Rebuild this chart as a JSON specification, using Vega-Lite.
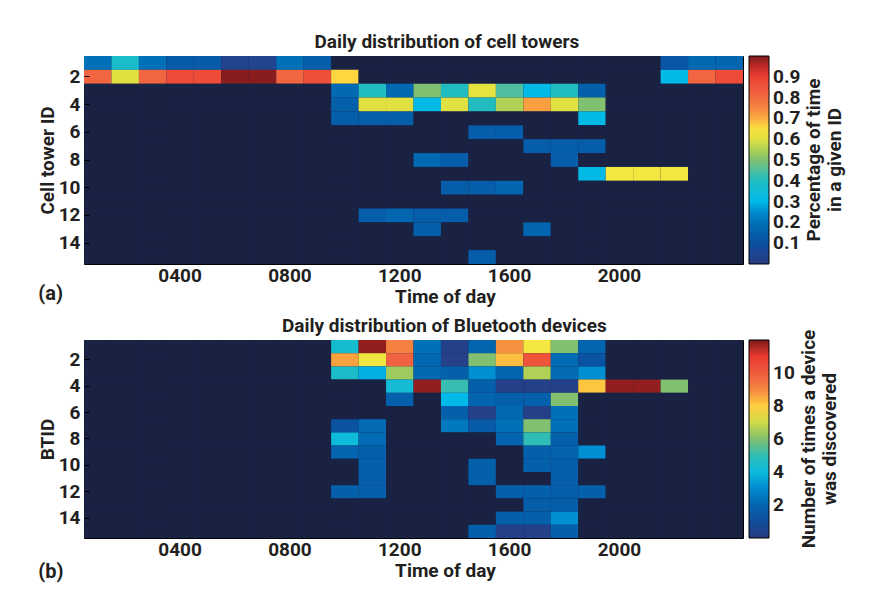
{
  "$schema": "https://vega.github.io/schema/vega-lite/v6.json",
  "padding": {"left": 37, "top": 32, "right": 5, "bottom": 5},
  "background": "white",
  "config": {
    "font": "Roboto",
    "view": {"stroke": "#000000", "strokeWidth": 1, "fill": "#1a2244"},
    "axis": {"labelFontSize": 19, "labelFontWeight": "bold", "labelColor": "#231f20", "titleFontSize": 19, "titleFontWeight": "bold", "titleColor": "#231f20", "domain": false, "grid": false},
    "legend": {"labelFontSize": 19, "labelFontWeight": "bold", "labelColor": "#231f20", "titleFontSize": 19, "titleFontWeight": "bold", "titleColor": "#231f20", "titleLimit": 400},
    "title": {"fontSize": 19, "fontWeight": "bold", "color": "#231f20"},
    "concat": {"spacing": 9}
  },
  "resolve": {"scale": {"color": "independent"}},
  "datasets": {
    "ct": [
      {"h":1,"r":1,"v":0.2},{"h":2,"r":1,"v":0.38},{"h":3,"r":1,"v":0.2},{"h":4,"r":1,"v":0.13},{"h":5,"r":1,"v":0.13},{"h":6,"r":1,"v":0.04},{"h":7,"r":1,"v":0.04},{"h":8,"r":1,"v":0.2},{"h":9,"r":1,"v":0.14},{"h":10,"r":1,"v":0},{"h":11,"r":1,"v":0},{"h":12,"r":1,"v":0},{"h":13,"r":1,"v":0},{"h":14,"r":1,"v":0},{"h":15,"r":1,"v":0},{"h":16,"r":1,"v":0},{"h":17,"r":1,"v":0},{"h":18,"r":1,"v":0},{"h":19,"r":1,"v":0},{"h":20,"r":1,"v":0},{"h":21,"r":1,"v":0},{"h":22,"r":1,"v":0.12},{"h":23,"r":1,"v":0.18},{"h":24,"r":1,"v":0.17},
      {"h":1,"r":2,"v":0.81},{"h":2,"r":2,"v":0.6},{"h":3,"r":2,"v":0.81},{"h":4,"r":2,"v":0.87},{"h":5,"r":2,"v":0.87},{"h":6,"r":2,"v":0.99},{"h":7,"r":2,"v":0.99},{"h":8,"r":2,"v":0.81},{"h":9,"r":2,"v":0.86},{"h":10,"r":2,"v":0.66},{"h":11,"r":2,"v":0},{"h":12,"r":2,"v":0},{"h":13,"r":2,"v":0},{"h":14,"r":2,"v":0},{"h":15,"r":2,"v":0},{"h":16,"r":2,"v":0},{"h":17,"r":2,"v":0},{"h":18,"r":2,"v":0},{"h":19,"r":2,"v":0},{"h":20,"r":2,"v":0},{"h":21,"r":2,"v":0},{"h":22,"r":2,"v":0.31},{"h":23,"r":2,"v":0.81},{"h":24,"r":2,"v":0.87},
      {"h":1,"r":3,"v":0},{"h":2,"r":3,"v":0},{"h":3,"r":3,"v":0},{"h":4,"r":3,"v":0},{"h":5,"r":3,"v":0},{"h":6,"r":3,"v":0},{"h":7,"r":3,"v":0},{"h":8,"r":3,"v":0},{"h":9,"r":3,"v":0},{"h":10,"r":3,"v":0.18},{"h":11,"r":3,"v":0.4},{"h":12,"r":3,"v":0.18},{"h":13,"r":3,"v":0.5},{"h":14,"r":3,"v":0.4},{"h":15,"r":3,"v":0.61},{"h":16,"r":3,"v":0.45},{"h":17,"r":3,"v":0.31},{"h":18,"r":3,"v":0.4},{"h":19,"r":3,"v":0.15},{"h":20,"r":3,"v":0},{"h":21,"r":3,"v":0},{"h":22,"r":3,"v":0},{"h":23,"r":3,"v":0},{"h":24,"r":3,"v":0},
      {"h":1,"r":4,"v":0},{"h":2,"r":4,"v":0},{"h":3,"r":4,"v":0},{"h":4,"r":4,"v":0},{"h":5,"r":4,"v":0},{"h":6,"r":4,"v":0},{"h":7,"r":4,"v":0},{"h":8,"r":4,"v":0},{"h":9,"r":4,"v":0},{"h":10,"r":4,"v":0.15},{"h":11,"r":4,"v":0.6},{"h":12,"r":4,"v":0.6},{"h":13,"r":4,"v":0.31},{"h":14,"r":4,"v":0.6},{"h":15,"r":4,"v":0.4},{"h":16,"r":4,"v":0.55},{"h":17,"r":4,"v":0.71},{"h":18,"r":4,"v":0.6},{"h":19,"r":4,"v":0.5},{"h":20,"r":4,"v":0},{"h":21,"r":4,"v":0},{"h":22,"r":4,"v":0},{"h":23,"r":4,"v":0},{"h":24,"r":4,"v":0},
      {"h":1,"r":5,"v":0},{"h":2,"r":5,"v":0},{"h":3,"r":5,"v":0},{"h":4,"r":5,"v":0},{"h":5,"r":5,"v":0},{"h":6,"r":5,"v":0},{"h":7,"r":5,"v":0},{"h":8,"r":5,"v":0},{"h":9,"r":5,"v":0},{"h":10,"r":5,"v":0.14},{"h":11,"r":5,"v":0.14},{"h":12,"r":5,"v":0.14},{"h":13,"r":5,"v":0},{"h":14,"r":5,"v":0},{"h":15,"r":5,"v":0},{"h":16,"r":5,"v":0},{"h":17,"r":5,"v":0},{"h":18,"r":5,"v":0},{"h":19,"r":5,"v":0.31},{"h":20,"r":5,"v":0},{"h":21,"r":5,"v":0},{"h":22,"r":5,"v":0},{"h":23,"r":5,"v":0},{"h":24,"r":5,"v":0},
      {"h":1,"r":6,"v":0},{"h":2,"r":6,"v":0},{"h":3,"r":6,"v":0},{"h":4,"r":6,"v":0},{"h":5,"r":6,"v":0},{"h":6,"r":6,"v":0},{"h":7,"r":6,"v":0},{"h":8,"r":6,"v":0},{"h":9,"r":6,"v":0},{"h":10,"r":6,"v":0},{"h":11,"r":6,"v":0},{"h":12,"r":6,"v":0},{"h":13,"r":6,"v":0},{"h":14,"r":6,"v":0},{"h":15,"r":6,"v":0.14},{"h":16,"r":6,"v":0.14},{"h":17,"r":6,"v":0},{"h":18,"r":6,"v":0},{"h":19,"r":6,"v":0},{"h":20,"r":6,"v":0},{"h":21,"r":6,"v":0},{"h":22,"r":6,"v":0},{"h":23,"r":6,"v":0},{"h":24,"r":6,"v":0},
      {"h":1,"r":7,"v":0},{"h":2,"r":7,"v":0},{"h":3,"r":7,"v":0},{"h":4,"r":7,"v":0},{"h":5,"r":7,"v":0},{"h":6,"r":7,"v":0},{"h":7,"r":7,"v":0},{"h":8,"r":7,"v":0},{"h":9,"r":7,"v":0},{"h":10,"r":7,"v":0},{"h":11,"r":7,"v":0},{"h":12,"r":7,"v":0},{"h":13,"r":7,"v":0},{"h":14,"r":7,"v":0},{"h":15,"r":7,"v":0},{"h":16,"r":7,"v":0},{"h":17,"r":7,"v":0.14},{"h":18,"r":7,"v":0.14},{"h":19,"r":7,"v":0.14},{"h":20,"r":7,"v":0},{"h":21,"r":7,"v":0},{"h":22,"r":7,"v":0},{"h":23,"r":7,"v":0},{"h":24,"r":7,"v":0},
      {"h":1,"r":8,"v":0},{"h":2,"r":8,"v":0},{"h":3,"r":8,"v":0},{"h":4,"r":8,"v":0},{"h":5,"r":8,"v":0},{"h":6,"r":8,"v":0},{"h":7,"r":8,"v":0},{"h":8,"r":8,"v":0},{"h":9,"r":8,"v":0},{"h":10,"r":8,"v":0},{"h":11,"r":8,"v":0},{"h":12,"r":8,"v":0},{"h":13,"r":8,"v":0.18},{"h":14,"r":8,"v":0.14},{"h":15,"r":8,"v":0},{"h":16,"r":8,"v":0},{"h":17,"r":8,"v":0},{"h":18,"r":8,"v":0.14},{"h":19,"r":8,"v":0},{"h":20,"r":8,"v":0},{"h":21,"r":8,"v":0},{"h":22,"r":8,"v":0},{"h":23,"r":8,"v":0},{"h":24,"r":8,"v":0},
      {"h":1,"r":9,"v":0},{"h":2,"r":9,"v":0},{"h":3,"r":9,"v":0},{"h":4,"r":9,"v":0},{"h":5,"r":9,"v":0},{"h":6,"r":9,"v":0},{"h":7,"r":9,"v":0},{"h":8,"r":9,"v":0},{"h":9,"r":9,"v":0},{"h":10,"r":9,"v":0},{"h":11,"r":9,"v":0},{"h":12,"r":9,"v":0},{"h":13,"r":9,"v":0},{"h":14,"r":9,"v":0},{"h":15,"r":9,"v":0},{"h":16,"r":9,"v":0},{"h":17,"r":9,"v":0},{"h":18,"r":9,"v":0},{"h":19,"r":9,"v":0.31},{"h":20,"r":9,"v":0.63},{"h":21,"r":9,"v":0.63},{"h":22,"r":9,"v":0.63},{"h":23,"r":9,"v":0},{"h":24,"r":9,"v":0},
      {"h":1,"r":10,"v":0},{"h":2,"r":10,"v":0},{"h":3,"r":10,"v":0},{"h":4,"r":10,"v":0},{"h":5,"r":10,"v":0},{"h":6,"r":10,"v":0},{"h":7,"r":10,"v":0},{"h":8,"r":10,"v":0},{"h":9,"r":10,"v":0},{"h":10,"r":10,"v":0},{"h":11,"r":10,"v":0},{"h":12,"r":10,"v":0},{"h":13,"r":10,"v":0},{"h":14,"r":10,"v":0.14},{"h":15,"r":10,"v":0.14},{"h":16,"r":10,"v":0.17},{"h":17,"r":10,"v":0},{"h":18,"r":10,"v":0},{"h":19,"r":10,"v":0},{"h":20,"r":10,"v":0},{"h":21,"r":10,"v":0},{"h":22,"r":10,"v":0},{"h":23,"r":10,"v":0},{"h":24,"r":10,"v":0},
      {"h":1,"r":11,"v":0},{"h":2,"r":11,"v":0},{"h":3,"r":11,"v":0},{"h":4,"r":11,"v":0},{"h":5,"r":11,"v":0},{"h":6,"r":11,"v":0},{"h":7,"r":11,"v":0},{"h":8,"r":11,"v":0},{"h":9,"r":11,"v":0},{"h":10,"r":11,"v":0},{"h":11,"r":11,"v":0},{"h":12,"r":11,"v":0},{"h":13,"r":11,"v":0},{"h":14,"r":11,"v":0},{"h":15,"r":11,"v":0},{"h":16,"r":11,"v":0},{"h":17,"r":11,"v":0},{"h":18,"r":11,"v":0},{"h":19,"r":11,"v":0},{"h":20,"r":11,"v":0},{"h":21,"r":11,"v":0},{"h":22,"r":11,"v":0},{"h":23,"r":11,"v":0},{"h":24,"r":11,"v":0},
      {"h":1,"r":12,"v":0},{"h":2,"r":12,"v":0},{"h":3,"r":12,"v":0},{"h":4,"r":12,"v":0},{"h":5,"r":12,"v":0},{"h":6,"r":12,"v":0},{"h":7,"r":12,"v":0},{"h":8,"r":12,"v":0},{"h":9,"r":12,"v":0},{"h":10,"r":12,"v":0},{"h":11,"r":12,"v":0.14},{"h":12,"r":12,"v":0.17},{"h":13,"r":12,"v":0.14},{"h":14,"r":12,"v":0.14},{"h":15,"r":12,"v":0},{"h":16,"r":12,"v":0},{"h":17,"r":12,"v":0},{"h":18,"r":12,"v":0},{"h":19,"r":12,"v":0},{"h":20,"r":12,"v":0},{"h":21,"r":12,"v":0},{"h":22,"r":12,"v":0},{"h":23,"r":12,"v":0},{"h":24,"r":12,"v":0},
      {"h":1,"r":13,"v":0},{"h":2,"r":13,"v":0},{"h":3,"r":13,"v":0},{"h":4,"r":13,"v":0},{"h":5,"r":13,"v":0},{"h":6,"r":13,"v":0},{"h":7,"r":13,"v":0},{"h":8,"r":13,"v":0},{"h":9,"r":13,"v":0},{"h":10,"r":13,"v":0},{"h":11,"r":13,"v":0},{"h":12,"r":13,"v":0},{"h":13,"r":13,"v":0.14},{"h":14,"r":13,"v":0},{"h":15,"r":13,"v":0},{"h":16,"r":13,"v":0},{"h":17,"r":13,"v":0.17},{"h":18,"r":13,"v":0},{"h":19,"r":13,"v":0},{"h":20,"r":13,"v":0},{"h":21,"r":13,"v":0},{"h":22,"r":13,"v":0},{"h":23,"r":13,"v":0},{"h":24,"r":13,"v":0},
      {"h":1,"r":14,"v":0},{"h":2,"r":14,"v":0},{"h":3,"r":14,"v":0},{"h":4,"r":14,"v":0},{"h":5,"r":14,"v":0},{"h":6,"r":14,"v":0},{"h":7,"r":14,"v":0},{"h":8,"r":14,"v":0},{"h":9,"r":14,"v":0},{"h":10,"r":14,"v":0},{"h":11,"r":14,"v":0},{"h":12,"r":14,"v":0},{"h":13,"r":14,"v":0},{"h":14,"r":14,"v":0},{"h":15,"r":14,"v":0},{"h":16,"r":14,"v":0},{"h":17,"r":14,"v":0},{"h":18,"r":14,"v":0},{"h":19,"r":14,"v":0},{"h":20,"r":14,"v":0},{"h":21,"r":14,"v":0},{"h":22,"r":14,"v":0},{"h":23,"r":14,"v":0},{"h":24,"r":14,"v":0},
      {"h":1,"r":15,"v":0},{"h":2,"r":15,"v":0},{"h":3,"r":15,"v":0},{"h":4,"r":15,"v":0},{"h":5,"r":15,"v":0},{"h":6,"r":15,"v":0},{"h":7,"r":15,"v":0},{"h":8,"r":15,"v":0},{"h":9,"r":15,"v":0},{"h":10,"r":15,"v":0},{"h":11,"r":15,"v":0},{"h":12,"r":15,"v":0},{"h":13,"r":15,"v":0},{"h":14,"r":15,"v":0},{"h":15,"r":15,"v":0.14},{"h":16,"r":15,"v":0},{"h":17,"r":15,"v":0},{"h":18,"r":15,"v":0},{"h":19,"r":15,"v":0},{"h":20,"r":15,"v":0},{"h":21,"r":15,"v":0},{"h":22,"r":15,"v":0},{"h":23,"r":15,"v":0},{"h":24,"r":15,"v":0}
    ],
    "bt": [
      {"h":1,"r":1,"v":0},{"h":2,"r":1,"v":0},{"h":3,"r":1,"v":0},{"h":4,"r":1,"v":0},{"h":5,"r":1,"v":0},{"h":6,"r":1,"v":0},{"h":7,"r":1,"v":0},{"h":8,"r":1,"v":0},{"h":9,"r":1,"v":0},{"h":10,"r":1,"v":4.4},{"h":11,"r":1,"v":11.8},{"h":12,"r":1,"v":9.1},{"h":13,"r":1,"v":2.4},{"h":14,"r":1,"v":0.3},{"h":15,"r":1,"v":2.0},{"h":16,"r":1,"v":8.8},{"h":17,"r":1,"v":7.6},{"h":18,"r":1,"v":6.0},{"h":19,"r":1,"v":2.0},{"h":20,"r":1,"v":0},{"h":21,"r":1,"v":0},{"h":22,"r":1,"v":0},{"h":23,"r":1,"v":0},{"h":24,"r":1,"v":0},
      {"h":1,"r":2,"v":0},{"h":2,"r":2,"v":0},{"h":3,"r":2,"v":0},{"h":4,"r":2,"v":0},{"h":5,"r":2,"v":0},{"h":6,"r":2,"v":0},{"h":7,"r":2,"v":0},{"h":8,"r":2,"v":0},{"h":9,"r":2,"v":0},{"h":10,"r":2,"v":8.5},{"h":11,"r":2,"v":7.5},{"h":12,"r":2,"v":9.8},{"h":13,"r":2,"v":2.1},{"h":14,"r":2,"v":0.3},{"h":15,"r":2,"v":6.0},{"h":16,"r":2,"v":8.2},{"h":17,"r":2,"v":10.2},{"h":18,"r":2,"v":2.2},{"h":19,"r":2,"v":1.3},{"h":20,"r":2,"v":0},{"h":21,"r":2,"v":0},{"h":22,"r":2,"v":0},{"h":23,"r":2,"v":0},{"h":24,"r":2,"v":0},
      {"h":1,"r":3,"v":0},{"h":2,"r":3,"v":0},{"h":3,"r":3,"v":0},{"h":4,"r":3,"v":0},{"h":5,"r":3,"v":0},{"h":6,"r":3,"v":0},{"h":7,"r":3,"v":0},{"h":8,"r":3,"v":0},{"h":9,"r":3,"v":0},{"h":10,"r":3,"v":4.6},{"h":11,"r":3,"v":3.5},{"h":12,"r":3,"v":6.4},{"h":13,"r":3,"v":2.1},{"h":14,"r":3,"v":1.8},{"h":15,"r":3,"v":3.1},{"h":16,"r":3,"v":2.0},{"h":17,"r":3,"v":6.6},{"h":18,"r":3,"v":2.2},{"h":19,"r":3,"v":3.1},{"h":20,"r":3,"v":0},{"h":21,"r":3,"v":0},{"h":22,"r":3,"v":0},{"h":23,"r":3,"v":0},{"h":24,"r":3,"v":0},
      {"h":1,"r":4,"v":0},{"h":2,"r":4,"v":0},{"h":3,"r":4,"v":0},{"h":4,"r":4,"v":0},{"h":5,"r":4,"v":0},{"h":6,"r":4,"v":0},{"h":7,"r":4,"v":0},{"h":8,"r":4,"v":0},{"h":9,"r":4,"v":0},{"h":10,"r":4,"v":0},{"h":11,"r":4,"v":0},{"h":12,"r":4,"v":4.3},{"h":13,"r":4,"v":11.8},{"h":14,"r":4,"v":5.1},{"h":15,"r":4,"v":1.8},{"h":16,"r":4,"v":0.3},{"h":17,"r":4,"v":0.3},{"h":18,"r":4,"v":0.3},{"h":19,"r":4,"v":8.1},{"h":20,"r":4,"v":11.8},{"h":21,"r":4,"v":11.8},{"h":22,"r":4,"v":6.0},{"h":23,"r":4,"v":0},{"h":24,"r":4,"v":0},
      {"h":1,"r":5,"v":0},{"h":2,"r":5,"v":0},{"h":3,"r":5,"v":0},{"h":4,"r":5,"v":0},{"h":5,"r":5,"v":0},{"h":6,"r":5,"v":0},{"h":7,"r":5,"v":0},{"h":8,"r":5,"v":0},{"h":9,"r":5,"v":0},{"h":10,"r":5,"v":0},{"h":11,"r":5,"v":0},{"h":12,"r":5,"v":1.8},{"h":13,"r":5,"v":0},{"h":14,"r":5,"v":3.6},{"h":15,"r":5,"v":2.0},{"h":16,"r":5,"v":1.8},{"h":17,"r":5,"v":1.8},{"h":18,"r":5,"v":6.0},{"h":19,"r":5,"v":0},{"h":20,"r":5,"v":0},{"h":21,"r":5,"v":0},{"h":22,"r":5,"v":0},{"h":23,"r":5,"v":0},{"h":24,"r":5,"v":0},
      {"h":1,"r":6,"v":0},{"h":2,"r":6,"v":0},{"h":3,"r":6,"v":0},{"h":4,"r":6,"v":0},{"h":5,"r":6,"v":0},{"h":6,"r":6,"v":0},{"h":7,"r":6,"v":0},{"h":8,"r":6,"v":0},{"h":9,"r":6,"v":0},{"h":10,"r":6,"v":0},{"h":11,"r":6,"v":0},{"h":12,"r":6,"v":0},{"h":13,"r":6,"v":0},{"h":14,"r":6,"v":1.8},{"h":15,"r":6,"v":0.3},{"h":16,"r":6,"v":2.1},{"h":17,"r":6,"v":0.3},{"h":18,"r":6,"v":2.4},{"h":19,"r":6,"v":0},{"h":20,"r":6,"v":0},{"h":21,"r":6,"v":0},{"h":22,"r":6,"v":0},{"h":23,"r":6,"v":0},{"h":24,"r":6,"v":0},
      {"h":1,"r":7,"v":0},{"h":2,"r":7,"v":0},{"h":3,"r":7,"v":0},{"h":4,"r":7,"v":0},{"h":5,"r":7,"v":0},{"h":6,"r":7,"v":0},{"h":7,"r":7,"v":0},{"h":8,"r":7,"v":0},{"h":9,"r":7,"v":0},{"h":10,"r":7,"v":1.3},{"h":11,"r":7,"v":2.2},{"h":12,"r":7,"v":0},{"h":13,"r":7,"v":0},{"h":14,"r":7,"v":2.6},{"h":15,"r":7,"v":1.6},{"h":16,"r":7,"v":2.4},{"h":17,"r":7,"v":6.0},{"h":18,"r":7,"v":2.4},{"h":19,"r":7,"v":0},{"h":20,"r":7,"v":0},{"h":21,"r":7,"v":0},{"h":22,"r":7,"v":0},{"h":23,"r":7,"v":0},{"h":24,"r":7,"v":0},
      {"h":1,"r":8,"v":0},{"h":2,"r":8,"v":0},{"h":3,"r":8,"v":0},{"h":4,"r":8,"v":0},{"h":5,"r":8,"v":0},{"h":6,"r":8,"v":0},{"h":7,"r":8,"v":0},{"h":8,"r":8,"v":0},{"h":9,"r":8,"v":0},{"h":10,"r":8,"v":4.1},{"h":11,"r":8,"v":2.2},{"h":12,"r":8,"v":0},{"h":13,"r":8,"v":0},{"h":14,"r":8,"v":0},{"h":15,"r":8,"v":0},{"h":16,"r":8,"v":2.0},{"h":17,"r":8,"v":5.0},{"h":18,"r":8,"v":1.8},{"h":19,"r":8,"v":0},{"h":20,"r":8,"v":0},{"h":21,"r":8,"v":0},{"h":22,"r":8,"v":0},{"h":23,"r":8,"v":0},{"h":24,"r":8,"v":0},
      {"h":1,"r":9,"v":0},{"h":2,"r":9,"v":0},{"h":3,"r":9,"v":0},{"h":4,"r":9,"v":0},{"h":5,"r":9,"v":0},{"h":6,"r":9,"v":0},{"h":7,"r":9,"v":0},{"h":8,"r":9,"v":0},{"h":9,"r":9,"v":0},{"h":10,"r":9,"v":2.0},{"h":11,"r":9,"v":1.8},{"h":12,"r":9,"v":0},{"h":13,"r":9,"v":0},{"h":14,"r":9,"v":0},{"h":15,"r":9,"v":0},{"h":16,"r":9,"v":0},{"h":17,"r":9,"v":1.8},{"h":18,"r":9,"v":1.9},{"h":19,"r":9,"v":3.1},{"h":20,"r":9,"v":0},{"h":21,"r":9,"v":0},{"h":22,"r":9,"v":0},{"h":23,"r":9,"v":0},{"h":24,"r":9,"v":0},
      {"h":1,"r":10,"v":0},{"h":2,"r":10,"v":0},{"h":3,"r":10,"v":0},{"h":4,"r":10,"v":0},{"h":5,"r":10,"v":0},{"h":6,"r":10,"v":0},{"h":7,"r":10,"v":0},{"h":8,"r":10,"v":0},{"h":9,"r":10,"v":0},{"h":10,"r":10,"v":0},{"h":11,"r":10,"v":1.8},{"h":12,"r":10,"v":0},{"h":13,"r":10,"v":0},{"h":14,"r":10,"v":0},{"h":15,"r":10,"v":1.8},{"h":16,"r":10,"v":0},{"h":17,"r":10,"v":1.8},{"h":18,"r":10,"v":1.7},{"h":19,"r":10,"v":0},{"h":20,"r":10,"v":0},{"h":21,"r":10,"v":0},{"h":22,"r":10,"v":0},{"h":23,"r":10,"v":0},{"h":24,"r":10,"v":0},
      {"h":1,"r":11,"v":0},{"h":2,"r":11,"v":0},{"h":3,"r":11,"v":0},{"h":4,"r":11,"v":0},{"h":5,"r":11,"v":0},{"h":6,"r":11,"v":0},{"h":7,"r":11,"v":0},{"h":8,"r":11,"v":0},{"h":9,"r":11,"v":0},{"h":10,"r":11,"v":0},{"h":11,"r":11,"v":1.7},{"h":12,"r":11,"v":0},{"h":13,"r":11,"v":0},{"h":14,"r":11,"v":0},{"h":15,"r":11,"v":1.8},{"h":16,"r":11,"v":0},{"h":17,"r":11,"v":0},{"h":18,"r":11,"v":1.7},{"h":19,"r":11,"v":0},{"h":20,"r":11,"v":0},{"h":21,"r":11,"v":0},{"h":22,"r":11,"v":0},{"h":23,"r":11,"v":0},{"h":24,"r":11,"v":0},
      {"h":1,"r":12,"v":0},{"h":2,"r":12,"v":0},{"h":3,"r":12,"v":0},{"h":4,"r":12,"v":0},{"h":5,"r":12,"v":0},{"h":6,"r":12,"v":0},{"h":7,"r":12,"v":0},{"h":8,"r":12,"v":0},{"h":9,"r":12,"v":0},{"h":10,"r":12,"v":1.8},{"h":11,"r":12,"v":1.8},{"h":12,"r":12,"v":0},{"h":13,"r":12,"v":0},{"h":14,"r":12,"v":0},{"h":15,"r":12,"v":0},{"h":16,"r":12,"v":1.8},{"h":17,"r":12,"v":1.8},{"h":18,"r":12,"v":1.7},{"h":19,"r":12,"v":1.8},{"h":20,"r":12,"v":0},{"h":21,"r":12,"v":0},{"h":22,"r":12,"v":0},{"h":23,"r":12,"v":0},{"h":24,"r":12,"v":0},
      {"h":1,"r":13,"v":0},{"h":2,"r":13,"v":0},{"h":3,"r":13,"v":0},{"h":4,"r":13,"v":0},{"h":5,"r":13,"v":0},{"h":6,"r":13,"v":0},{"h":7,"r":13,"v":0},{"h":8,"r":13,"v":0},{"h":9,"r":13,"v":0},{"h":10,"r":13,"v":0},{"h":11,"r":13,"v":0},{"h":12,"r":13,"v":0},{"h":13,"r":13,"v":0},{"h":14,"r":13,"v":0},{"h":15,"r":13,"v":0},{"h":16,"r":13,"v":0},{"h":17,"r":13,"v":1.7},{"h":18,"r":13,"v":1.7},{"h":19,"r":13,"v":0},{"h":20,"r":13,"v":0},{"h":21,"r":13,"v":0},{"h":22,"r":13,"v":0},{"h":23,"r":13,"v":0},{"h":24,"r":13,"v":0},
      {"h":1,"r":14,"v":0},{"h":2,"r":14,"v":0},{"h":3,"r":14,"v":0},{"h":4,"r":14,"v":0},{"h":5,"r":14,"v":0},{"h":6,"r":14,"v":0},{"h":7,"r":14,"v":0},{"h":8,"r":14,"v":0},{"h":9,"r":14,"v":0},{"h":10,"r":14,"v":0},{"h":11,"r":14,"v":0},{"h":12,"r":14,"v":0},{"h":13,"r":14,"v":0},{"h":14,"r":14,"v":0},{"h":15,"r":14,"v":0},{"h":16,"r":14,"v":1.8},{"h":17,"r":14,"v":1.8},{"h":18,"r":14,"v":3.1},{"h":19,"r":14,"v":0},{"h":20,"r":14,"v":0},{"h":21,"r":14,"v":0},{"h":22,"r":14,"v":0},{"h":23,"r":14,"v":0},{"h":24,"r":14,"v":0},
      {"h":1,"r":15,"v":0},{"h":2,"r":15,"v":0},{"h":3,"r":15,"v":0},{"h":4,"r":15,"v":0},{"h":5,"r":15,"v":0},{"h":6,"r":15,"v":0},{"h":7,"r":15,"v":0},{"h":8,"r":15,"v":0},{"h":9,"r":15,"v":0},{"h":10,"r":15,"v":0},{"h":11,"r":15,"v":0},{"h":12,"r":15,"v":0},{"h":13,"r":15,"v":0},{"h":14,"r":15,"v":0},{"h":15,"r":15,"v":1.8},{"h":16,"r":15,"v":0.3},{"h":17,"r":15,"v":0.3},{"h":18,"r":15,"v":1.8},{"h":19,"r":15,"v":0},{"h":20,"r":15,"v":0},{"h":21,"r":15,"v":0},{"h":22,"r":15,"v":0},{"h":23,"r":15,"v":0},{"h":24,"r":15,"v":0}
    ]
  },
  "vconcat": [
    {
      "title": {"text": "Daily distribution of cell towers", "anchor": "middle", "frame": "bounds", "offset": 4, "dx": 5},
      "vconcat": [
        {
          "title": {"text": "(a)", "orient": "bottom", "anchor": "start", "frame": "bounds", "offset": -22, "fontSize": 20},
          "width": 659,
          "height": 208,
          "data": {"name": "ct"},
          "mark": {"type": "rect"},
          "encoding": {
            "x": {"field": "h", "type": "ordinal", "scale": {"paddingInner": 0, "paddingOuter": 0},
              "axis": {"values": [4, 8, 12, 16, 20], "labelExpr": "(datum.value < 10 ? '0' : '') + datum.value + '00'", "labelAngle": 0, "ticks": false, "labelPadding": 2, "title": "Time of day", "titleX": 361, "titlePadding": 2}},
            "y": {"field": "r", "type": "ordinal", "scale": {"paddingInner": 0, "paddingOuter": 0},
              "axis": {"values": [2, 4, 6, 8, 10, 12, 14], "tickSize": -5, "tickColor": "#000000", "labelPadding": 9, "title": "Cell tower ID", "titlePadding": 1}},
            "color": {
              "condition": {"test": "datum.v === 0", "value": "#1a2244"},
              "field": "v", "type": "quantitative",
              "scale": {"domain": [0, 0.05, 0.1, 0.2, 0.26, 0.3, 0.35, 0.4, 0.45, 0.5, 0.56, 0.6, 0.64, 0.67, 0.71, 0.76, 0.82, 0.88, 0.92, 0.96, 1],
                "range": ["#283a80", "#1e4692", "#0a50a0", "#0070b8", "#0090d4", "#00b8ea", "#10bcd8", "#20bcc0", "#50bea0", "#80c070", "#b8d450", "#e0e040", "#f8ea40", "#ffcc40", "#f8a040", "#f48040", "#f06040", "#ee4836", "#e83830", "#b02424", "#7c1a1a"], "interpolate": "rgb"},
              "legend": {"values": [0.1, 0.2, 0.3, 0.4, 0.5, 0.6, 0.7, 0.8, 0.9], "direction": "vertical", "gradientLength": 208, "gradientThickness": 20, "gradientStrokeColor": "#000000", "gradientStrokeWidth": 1, "labelOffset": 4, "labelOverlap": false, "labelBaseline": "middle", "title": ["Percentage of time", "in a given ID"], "titleOrient": "right", "titleAnchor": "middle", "titleLineHeight": 21, "titlePadding": 5, "offset": 5, "padding": 0,
                "encode": {"title": {"update": {"angle": {"value": 270}, "baseline": {"value": "top"}, "dx": {"value": -10}}}}}
            }
          }
        }
      ]
    },
    {
      "title": {"text": "Daily distribution of Bluetooth devices", "anchor": "middle", "frame": "bounds", "offset": 4, "dx": 5},
      "vconcat": [
        {
          "title": {"text": "(b)", "orient": "bottom", "anchor": "start", "frame": "bounds", "offset": -18, "fontSize": 20},
          "width": 659,
          "height": 198,
          "data": {"name": "bt"},
          "mark": {"type": "rect"},
          "encoding": {
            "x": {"field": "h", "type": "ordinal", "scale": {"paddingInner": 0, "paddingOuter": 0},
              "axis": {"values": [4, 8, 12, 16, 20], "labelExpr": "(datum.value < 10 ? '0' : '') + datum.value + '00'", "labelAngle": 0, "ticks": false, "labelPadding": 2, "title": "Time of day", "titleX": 361, "titlePadding": 2}},
            "y": {"field": "r", "type": "ordinal", "scale": {"paddingInner": 0, "paddingOuter": 0},
              "axis": {"values": [2, 4, 6, 8, 10, 12, 14], "tickSize": -5, "tickColor": "#000000", "labelPadding": 9, "title": "BTID", "titlePadding": 1}},
            "color": {
              "condition": {"test": "datum.v === 0", "value": "#1a2244"},
              "field": "v", "type": "quantitative",
              "scale": {"domain": [0, 0.6, 1.2, 2.4, 3.12, 3.6, 4.2, 4.8, 5.4, 6, 6.72, 7.2, 7.68, 8.04, 8.52, 9.12, 9.84, 10.56, 11.04, 11.52, 12],
                "range": ["#283a80", "#1e4692", "#0a50a0", "#0070b8", "#0090d4", "#00b8ea", "#10bcd8", "#20bcc0", "#50bea0", "#80c070", "#b8d450", "#e0e040", "#f8ea40", "#ffcc40", "#f8a040", "#f48040", "#f06040", "#ee4836", "#e83830", "#b02424", "#7c1a1a"], "interpolate": "rgb"},
              "legend": {"values": [2, 4, 6, 8, 10], "direction": "vertical", "gradientLength": 198, "gradientThickness": 20, "gradientStrokeColor": "#000000", "gradientStrokeWidth": 1, "labelOffset": 4, "labelOverlap": false, "labelBaseline": "middle", "title": ["Number of times a device", "was discovered"], "titleOrient": "right", "titleAnchor": "middle", "titleLineHeight": 21, "titlePadding": 5, "offset": 5, "padding": 0,
                "encode": {"title": {"update": {"angle": {"value": 270}, "baseline": {"value": "top"}, "dx": {"value": -10}}}}}
            }
          }
        }
      ]
    }
  ]
}
